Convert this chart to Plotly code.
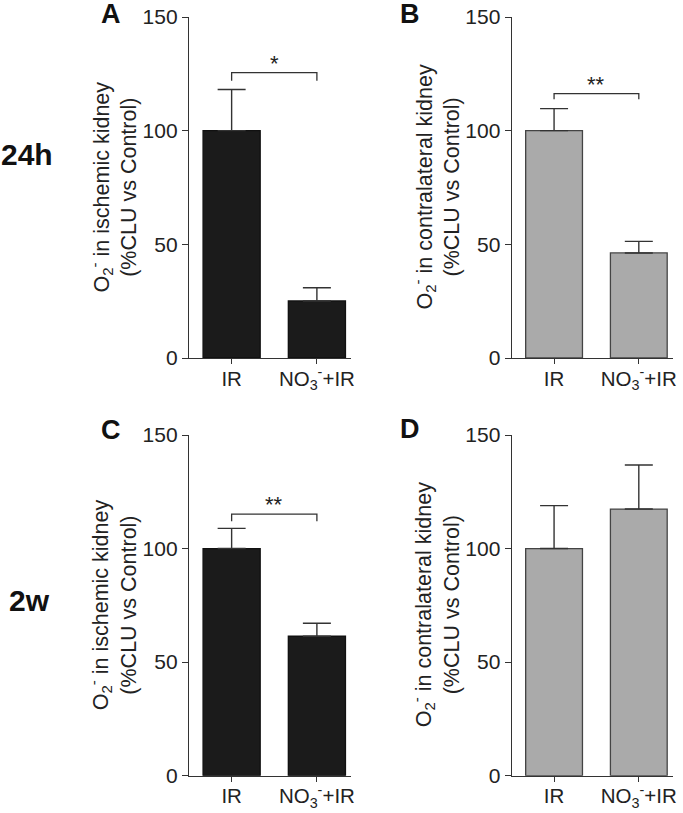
import plotly.graph_objects as go

# ---------------- data ----------------
categories = ["IR", "NO<sub>3</sub><sup>-</sup>+IR"]

a_means = [100.0, 25.1]
a_upper = [118.1, 30.9]

b_means = [100.0, 46.2]
b_upper = [109.7, 51.3]

c_means = [100.0, 61.4]
c_upper = [108.9, 67.1]

d_means = [100.0, 117.4]
d_upper = [118.9, 136.8]

panel_letters = ["A", "B", "C", "D"]
row_labels = ["24h", "2w"]
y_titles = [
    "O<sub>2</sub><sup>-</sup> in ischemic kidney<br>(%CLU vs Control)",
    "O<sub>2</sub><sup>-</sup> in contralateral kidney<br>(%CLU vs Control)",
    "O<sub>2</sub><sup>-</sup> in ischemic kidney<br>(%CLU vs Control)",
    "O<sub>2</sub><sup>-</sup> in contralateral kidney<br>(%CLU vs Control)",
]
y_ticks = [0, 50, 100, 150]

# significance brackets: (top y, end y, label) ; None = no bracket
brackets = [
    (125.5, 122.0, "*"),
    (116.3, 113.8, "**"),
    (115.2, 112.0, "**"),
    None,
]

# ---------------- styling ----------------
W, H = 683, 813
FONT = "Liberation Sans, Arial, sans-serif"
AXC = "#333333"
fills = ["#1b1b1b", "#aaaaaa", "#1b1b1b", "#aaaaaa"]
outlines = ["#111111", "#444444", "#111111", "#444444"]


def fx(px):
    return px / W


def fy(py):
    return 1 - py / H


# panel boxes in page pixels: (x0, x1, y0_top, y1_bottom)
boxes = [
    (189.0, 351.0, 17.0, 358.0),
    (511.7, 672.7, 17.0, 358.0),
    (189.0, 351.0, 435.0, 775.7),
    (511.7, 672.7, 435.0, 775.7),
]
letter_pos = [(111, 14), (410, 14), (111, 430), (410, 429)]
title_x = [113, 436, 113, 436]
row_label_pos = [(27, 155), (29, 600)]

means = [a_means, b_means, c_means, d_means]
uppers = [a_upper, b_upper, c_upper, d_upper]

fig = go.Figure()
layout = dict(
    width=W, height=H,
    margin=dict(l=0, r=0, t=0, b=0, autoexpand=False),
    paper_bgcolor="white", plot_bgcolor="white",
    showlegend=False,
    font=dict(family=FONT, color="#222222"),
)
annotations = []
shapes = []

xpos = [0, 1]
for i in range(4):
    ax = "" if i == 0 else str(i + 1)
    x0, x1, y0, y1 = boxes[i]
    m = means[i]
    up = uppers[i]
    fig.add_trace(go.Bar(
        x=xpos, y=m,
        width=0.67,
        marker=dict(color=fills[i], line=dict(color=outlines[i], width=1.3)),
        error_y=dict(type="data", symmetric=False,
                     array=[u - v for u, v in zip(up, m)],
                     arrayminus=[0 for _ in m],
                     color="#333333", thickness=1.4, width=14),
        xaxis="x" + ax, yaxis="y" + ax,
        cliponaxis=False,
    ))
    layout["xaxis" + ax] = dict(
        domain=[fx(x0), fx(x1)], anchor="y" + ax, automargin=False,
        range=[-0.5, 1.4], tickmode="array", tickvals=xpos, ticktext=categories,
        showline=True, linecolor=AXC, linewidth=1.3,
        ticks="outside", ticklen=5, tickcolor=AXC, tickwidth=1.3,
        ticklabelstandoff=-3,
        showgrid=False, zeroline=False, fixedrange=True,
        tickfont=dict(family=FONT, size=20.5, color="#222222"),
    )
    layout["yaxis" + ax] = dict(
        domain=[fy(y1), fy(y0)], anchor="x" + ax, automargin=False,
        range=[0, 150], tickmode="array", tickvals=y_ticks,
        showline=True, linecolor=AXC, linewidth=1.3,
        ticks="outside", ticklen=6, tickcolor=AXC, tickwidth=1.3,
        showgrid=False, zeroline=False, fixedrange=True,
        tickfont=dict(family=FONT, size=21, color="#222222"),
    )
    # y-axis title
    annotations.append(dict(
        text=y_titles[i], textangle=-90,
        x=fx(title_x[i]), y=fy((y0 + y1) / 2),
        xref="paper", yref="paper", xanchor="center", yanchor="middle",
        showarrow=False, font=dict(family=FONT, size=21.5, color="#222222"),
    ))
    # panel letter
    lx, ly = letter_pos[i]
    annotations.append(dict(
        text="<b>" + panel_letters[i] + "</b>",
        x=fx(lx), y=fy(ly), xref="paper", yref="paper",
        xanchor="center", yanchor="middle", showarrow=False,
        font=dict(family=FONT, size=27, color="#111111"),
    ))
    # significance bracket
    br = brackets[i]
    if br is not None:
        top, end, lab = br
        shapes.append(dict(
            type="path", xref="x" + ax, yref="y" + ax,
            path=f"M {xpos[0]},{end} L {xpos[0]},{top} L {xpos[1]},{top} L {xpos[1]},{end}",
            line=dict(color="#333333", width=1.3),
        ))
        annotations.append(dict(
            text=lab, x=(xpos[0] + xpos[1]) / 2, y=top,
            xref="x" + ax, yref="y" + ax, xanchor="center", yanchor="bottom",
            yshift=-5, showarrow=False,
            font=dict(family=FONT, size=22, color="#222222"),
        ))

for lab, (rx, ry) in zip(row_labels, row_label_pos):
    annotations.append(dict(
        text="<b>" + lab + "</b>", x=fx(rx), y=fy(ry),
        xref="paper", yref="paper", xanchor="center", yanchor="middle",
        showarrow=False, font=dict(family=FONT, size=30, color="#111111"),
    ))

layout["annotations"] = annotations
layout["shapes"] = shapes
fig.update_layout(**layout)
fig.write_html("out.html", config={"displayModeBar": False},
               post_script="document.body.style.margin='0';")
